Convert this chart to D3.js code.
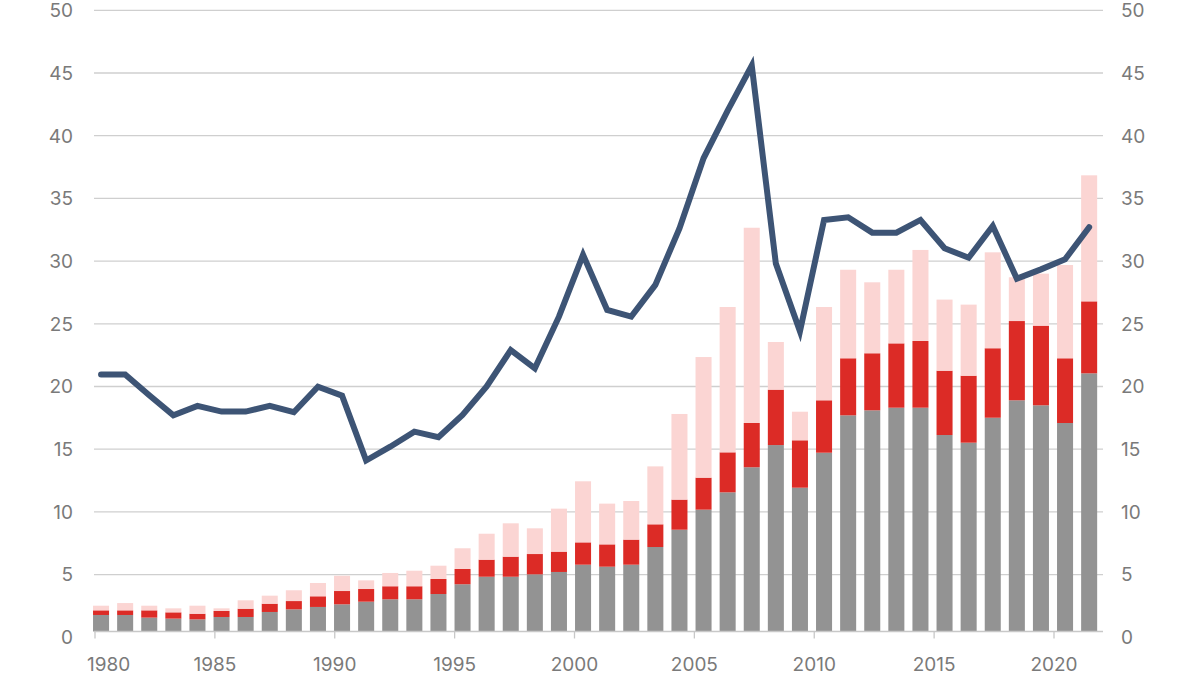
<!DOCTYPE html>
<html>
<head>
<meta charset="utf-8">
<script src="https://cdn.jsdelivr.net/npm/d3@7"></script>
<style>
  body { margin: 0; background: #fff; }
  svg text { font-family: Inter, "Noto Sans", sans-serif; fill: #7a7a7a; }
</style>
</head>
<body>
<script>
// years shown as bars / line points
const years = d3.range(1980, 2022);

// stacked bar segments (cumulative read as segment sizes)
const grayVals = [1.78, 1.78, 1.57, 1.49, 1.43, 1.62, 1.62, 2.02, 2.23, 2.42,
  2.63, 2.84, 3.03, 3.03, 3.45, 4.23, 4.83, 4.83, 5.02, 5.21,
  5.79, 5.63, 5.79, 7.20, 8.58, 10.18, 11.56, 13.56, 15.33, 11.93,
  14.72, 17.70, 18.10, 18.31, 18.31, 16.13, 15.52, 17.51, 18.90, 18.50,
  17.09, 21.05];
const redVals = [0.37, 0.37, 0.58, 0.50, 0.45, 0.48, 0.66, 0.66, 0.66, 0.85,
  1.06, 1.01, 1.04, 1.04, 1.20, 1.22, 1.36, 1.60, 1.62, 1.62,
  1.78, 1.78, 2.00, 1.81, 2.40, 2.55, 3.19, 3.53, 4.42, 3.78,
  4.18, 4.55, 4.55, 5.13, 5.32, 5.13, 5.34, 5.54, 6.32, 6.35,
  5.16, 5.74];
const pinkVals = [0.37, 0.58, 0.37, 0.32, 0.64, 0.21, 0.67, 0.64, 0.86, 1.06,
  1.22, 0.69, 1.06, 1.24, 1.06, 1.65, 2.07, 2.66, 2.05, 3.43,
  4.87, 3.25, 3.08, 4.62, 6.83, 9.62, 11.59, 15.57, 3.80, 2.28,
  7.44, 7.06, 5.66, 5.87, 7.26, 5.67, 5.67, 7.65, 3.49, 4.15,
  7.44, 10.05];

// line series
const lineVals = [20.95, 20.95, 19.3, 17.7, 18.45, 18.0, 18.0, 18.45, 17.95, 19.98,
  19.27, 14.1, 15.2, 16.4, 15.95, 17.73, 20.0, 22.9, 21.45, 25.57,
  30.5, 26.1, 25.57, 28.1, 32.6, 38.2, 42.0, 45.6, 29.8, 24.4,
  33.28, 33.49, 32.27, 32.27, 33.28, 31.02, 30.27, 32.8, 28.6, 29.34,
  30.14, 32.7];

const yTicks = d3.range(0, 51, 5);
const xTickYears = [1980, 1985, 1990, 1995, 2000, 2005, 2010, 2015, 2020];

const W = 1200, H = 675;
const svg = d3.select("body").append("svg")
  .attr("width", W)
  .attr("height", H);

const y = d3.scaleLinear().domain([0, 50]).range([637.3, 10.3]);
const baseY = y(0) - 5.8; // axis line sits a little above the zero label

const x = d3.scaleBand()
  .domain(years)
  .range([89, 1101.2])
  .paddingInner(0.335)
  .paddingOuter(0.1675);

const xTick = d3.scaleLinear().domain([1980, 2020]).range([95, 1054]);

const gridLeft = 94, gridRight = 1103;

// gridlines
svg.append("g")
  .selectAll("line")
  .data(yTicks.filter(d => d > 0))
  .enter()
  .append("line")
  .attr("x1", gridLeft)
  .attr("x2", gridRight)
  .attr("y1", d => y(d))
  .attr("y2", d => y(d))
  .attr("stroke", "#cfcfcf")
  .attr("stroke-width", 1.3);

// left / right labels
svg.append("g")
  .selectAll("text")
  .data(yTicks)
  .enter()
  .append("text")
  .attr("x", 73)
  .attr("y", d => y(d))
  .attr("dy", "0.36em")
  .attr("text-anchor", "end")
  .attr("font-size", 19)
  .text(d => d);

svg.append("g")
  .selectAll("text")
  .data(yTicks)
  .enter()
  .append("text")
  .attr("x", 1121)
  .attr("y", d => y(d))
  .attr("dy", "0.36em")
  .attr("text-anchor", "start")
  .attr("font-size", 19)
  .text(d => d);

// stacked bars
const rows = years.map((yr, i) => ({ year: yr, gray: grayVals[i], red: redVals[i], pink: pinkVals[i] }));
const stack = d3.stack().keys(["gray", "red", "pink"])(rows);
const colors = { gray: "#939393", red: "#dc2b26", pink: "#fbd5d3" };

svg.append("g")
  .selectAll("g")
  .data(stack)
  .enter()
  .append("g")
  .attr("fill", d => colors[d.key])
  .selectAll("rect")
  .data(d => d)
  .enter()
  .append("rect")
  .attr("x", d => x(d.data.year))
  .attr("width", x.bandwidth())
  .attr("y", d => y(d[1]))
  .attr("height", d => (d[0] === 0 ? baseY : y(d[0])) - y(d[1]));

// baseline + ticks
svg.append("line")
  .attr("x1", gridLeft)
  .attr("x2", gridRight)
  .attr("y1", baseY)
  .attr("y2", baseY)
  .attr("stroke", "#c8c8c8")
  .attr("stroke-width", 1.3);

svg.append("g")
  .selectAll("line")
  .data(xTickYears)
  .enter()
  .append("line")
  .attr("x1", d => xTick(d))
  .attr("x2", d => xTick(d))
  .attr("y1", baseY)
  .attr("y2", baseY + 7)
  .attr("stroke", "#c8c8c8")
  .attr("stroke-width", 1.3);

svg.append("g")
  .selectAll("text")
  .data(xTickYears)
  .enter()
  .append("text")
  .attr("x", (d, i) => i === 0 ? xTick(d) - 8 : xTick(d))
  .attr("y", 664)
  .attr("dy", "0.36em")
  .attr("text-anchor", (d, i) => i === 0 ? "start" : "middle")
  .attr("font-size", 19)
  .text(d => d);

// line
const line = d3.line()
  .x((d, i) => x(years[i]) + x.bandwidth() / 2)
  .y(d => y(d));

svg.append("path")
  .datum(lineVals)
  .attr("d", line)
  .attr("fill", "none")
  .attr("stroke", "#3d5475")
  .attr("stroke-width", 6)
  .attr("stroke-linejoin", "miter")
  .attr("stroke-linecap", "round");
</script>
</body>
</html>
